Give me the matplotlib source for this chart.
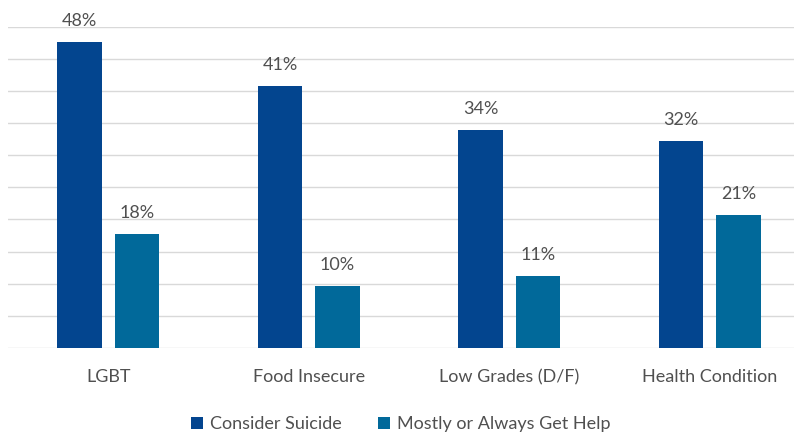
import matplotlib

matplotlib.use("Agg")
import matplotlib.pyplot as plt
import numpy as np

categories = ["LGBT", "Food Insecure", "Low Grades (D/F)", "Health Condition"]
consider_suicide = [47.6, 40.7, 33.9, 32.2]
get_help = [17.7, 9.6, 11.2, 20.7]
series_names = ["Consider Suicide", "Mostly or Always Get Help"]

DARK = "#03458f"
LIGHT = "#01699a"
GRID = "#d9d9d9"
TEXT = "#505050"

plt.rcParams["font.family"] = ["Lato", "DejaVu Sans"]

W, H = 794, 433
fig = plt.figure(figsize=(W / 100, H / 100), dpi=100)
# plot area runs off the right edge of the image, like the original
left_px, base_px, top_px = 8, 348, 26.5
ax = fig.add_axes([left_px / W, (H - base_px) / H, (W - left_px) / W, (base_px - top_px) / H])

x = np.arange(len(categories))
bw = 0.222
off = 0.143
b1 = ax.bar(x - off, consider_suicide, bw, color=DARK, label=series_names[0], zorder=3)
b2 = ax.bar(x + off, get_help, bw, color=LIGHT, label=series_names[1], zorder=3)

for bars in (b1, b2):
    for rect in bars:
        v = rect.get_height()
        ax.annotate(f"{round(v)}%", (rect.get_x() + rect.get_width() / 2, v),
                    xytext=(0, 9.5), textcoords="offset points",
                    ha="center", va="bottom", fontsize=13, color=TEXT)

ax.set_ylim(0, 50)
ax.set_xlim(-0.5, -0.5 + (W - left_px) / 200.5)
ax.set_yticks(np.arange(0, 51, 5))
ax.yaxis.grid(True, color=GRID, lw=1)
ax.set_axisbelow(True)
ax.tick_params(axis="y", left=False, labelleft=False)
ax.set_xticks(x, categories)
ax.tick_params(axis="x", length=0, pad=15, labelsize=13, labelcolor=TEXT)
for s in ax.spines.values():
    s.set_visible(False)

fig.legend(loc="center", bbox_to_anchor=(401 / W, 1 - 424 / H), ncol=2, frameon=False,
           fontsize=13, labelcolor=TEXT, handlelength=0.65, handleheight=0.65,
           handletextpad=0.4, columnspacing=2.0)

fig.savefig("out.png", dpi=100)
